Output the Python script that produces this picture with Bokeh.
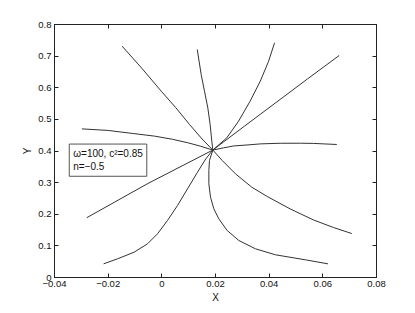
from bokeh.plotting import figure
from bokeh.models import FixedTicker, LinearAxis, Label, Range1d
from bokeh.embed import file_html
from bokeh.resources import INLINE

# ---- data ----
x_ticks = [-0.04, -0.02, 0.0, 0.02, 0.04, 0.06, 0.08]
x_tick_labels = ["\u22120.04", "\u22120.02", "0", "0.02", "0.04", "0.06", "0.08"]
y_ticks = [0.0, 0.1, 0.2, 0.3, 0.4, 0.5, 0.6, 0.7, 0.8]
y_tick_labels = ["0", "0.1", "0.2", "0.3", "0.4", "0.5", "0.6", "0.7", "0.8"]

c1_x = [-0.0148, -0.0075, -0.0002, 0.0052, 0.0103, 0.0150, 0.0190]
c1_y = [0.7315, 0.6620, 0.5890, 0.5370, 0.4840, 0.4380, 0.4030]

c2_x = [0.0132, 0.01466, 0.0159, 0.01714, 0.0180, 0.01863, 0.0190]
c2_y = [0.7210, 0.6420, 0.5890, 0.5365, 0.4838, 0.4311, 0.4030]

c3_x = [-0.0298, -0.0200, -0.0104, -0.0027, 0.0040, 0.0097, 0.0145, 0.0190]
c3_y = [0.4700, 0.4650, 0.4550, 0.4470, 0.4370, 0.4260, 0.4150, 0.4030]

c4_x = [0.0420, 0.0398, 0.0367, 0.0329, 0.0286, 0.0242, 0.0190]
c4_y = [0.7420, 0.6840, 0.6210, 0.5576, 0.4943, 0.4416, 0.4030]

c5_x = [0.0190, 0.0307, 0.0425, 0.0543, 0.0661]
c5_y = [0.4030, 0.4780, 0.5530, 0.6280, 0.7020]

c6_x = [0.0190, 0.0230, 0.0268, 0.0317, 0.0368, 0.0441, 0.0517, 0.0565, 0.0652]
c6_y = [0.4030, 0.4100, 0.4160, 0.4190, 0.4225, 0.4245, 0.4246, 0.4240, 0.4206]

c7_x = [-0.0280, -0.0052, 0.0190]
c7_y = [0.1890, 0.2972, 0.4030]

c8_x = [-0.0217, -0.01652, -0.0103, -0.00534, -0.00161, 0.00211, 0.00584, 0.00957, 0.0133, 0.0164, 0.0190]
c8_y = [0.0432, 0.0590, 0.0801, 0.1065, 0.1381, 0.1803, 0.2277, 0.2804, 0.3331, 0.3753, 0.4030]

c9_x = [0.0190, 0.0225, 0.02745, 0.0335, 0.0393, 0.0478, 0.0565, 0.0640, 0.0708]
c9_y = [0.4030, 0.3700, 0.3278, 0.2857, 0.2560, 0.2170, 0.1820, 0.1580, 0.1390]

c10_x = [0.0190, 0.01776, 0.01752, 0.01752, 0.01814, 0.01938, 0.02124, 0.02435, 0.0287, 0.0349, 0.0424, 0.0535, 0.0619]
c10_y = [0.4030, 0.3700, 0.3384, 0.2962, 0.2540, 0.2171, 0.1855, 0.1486, 0.1170, 0.0907, 0.0717, 0.0559, 0.0432]

curves = [(c1_x, c1_y), (c2_x, c2_y), (c3_x, c3_y), (c4_x, c4_y), (c5_x, c5_y),
          (c6_x, c6_y), (c7_x, c7_y), (c8_x, c8_y), (c9_x, c9_y), (c10_x, c10_y)]

legend_text = "\u03c9=100, c\u00b2=0.85\nn=\u22120.5"

FONT = "Liberation Sans"

p = figure(width=407, height=305,
           x_range=Range1d(-0.04, 0.08), y_range=Range1d(0, 0.8),
           output_backend="svg", toolbar_location=None,
           min_border_left=54, min_border_right=31,
           min_border_top=24, min_border_bottom=28,
           x_axis_label="X", y_axis_label="Y")

p.grid.visible = False
p.outline_line_color = "#222222"
p.outline_line_width = 1
p.background_fill_color = "white"
p.border_fill_color = "white"

for ax, ticks, labels in ((p.xaxis[0], x_ticks, x_tick_labels), (p.yaxis[0], y_ticks, y_tick_labels)):
    ax.ticker = FixedTicker(ticks=ticks)
    ax.major_label_overrides = {t: l for t, l in zip(ticks, labels)}
    ax.major_tick_in = 4
    ax.major_tick_out = 0
    ax.minor_tick_in = 0
    ax.minor_tick_out = 0
    ax.axis_line_color = "#222222"
    ax.major_tick_line_color = "#222222"
    ax.major_label_text_font = FONT
    ax.major_label_text_font_size = "9.5px"
    ax.major_label_text_color = "#111111"
    ax.major_label_standoff = 3
    ax.axis_label_text_font = FONT
    ax.axis_label_text_font_size = "10px"
    ax.axis_label_text_font_style = "normal"
    ax.axis_label_text_color = "#111111"
    ax.axis_label_standoff = 2

p.yaxis[0].major_label_orientation = "horizontal"

for loc, ticks in (("above", x_ticks), ("right", y_ticks)):
    ax = LinearAxis(ticker=FixedTicker(ticks=ticks),
                    major_label_text_font_size="0px",
                    major_tick_in=4, major_tick_out=0,
                    minor_tick_in=0, minor_tick_out=0,
                    axis_line_color="#222222", major_tick_line_color="#222222",
                    major_label_standoff=0)
    p.add_layout(ax, loc)

for cx, cy in curves:
    p.line(cx, cy, line_color="#333333", line_width=1)

lab = Label(x=-0.0345, y=0.371, text=legend_text,
            text_font=FONT, text_font_size="10px", text_color="#111111",
            text_align="left", text_baseline="middle",
            border_line_color="#555555", border_line_width=1,
            background_fill_color="white", padding=4)
p.add_layout(lab)

open("out.html", "w").write(file_html(p, INLINE))
